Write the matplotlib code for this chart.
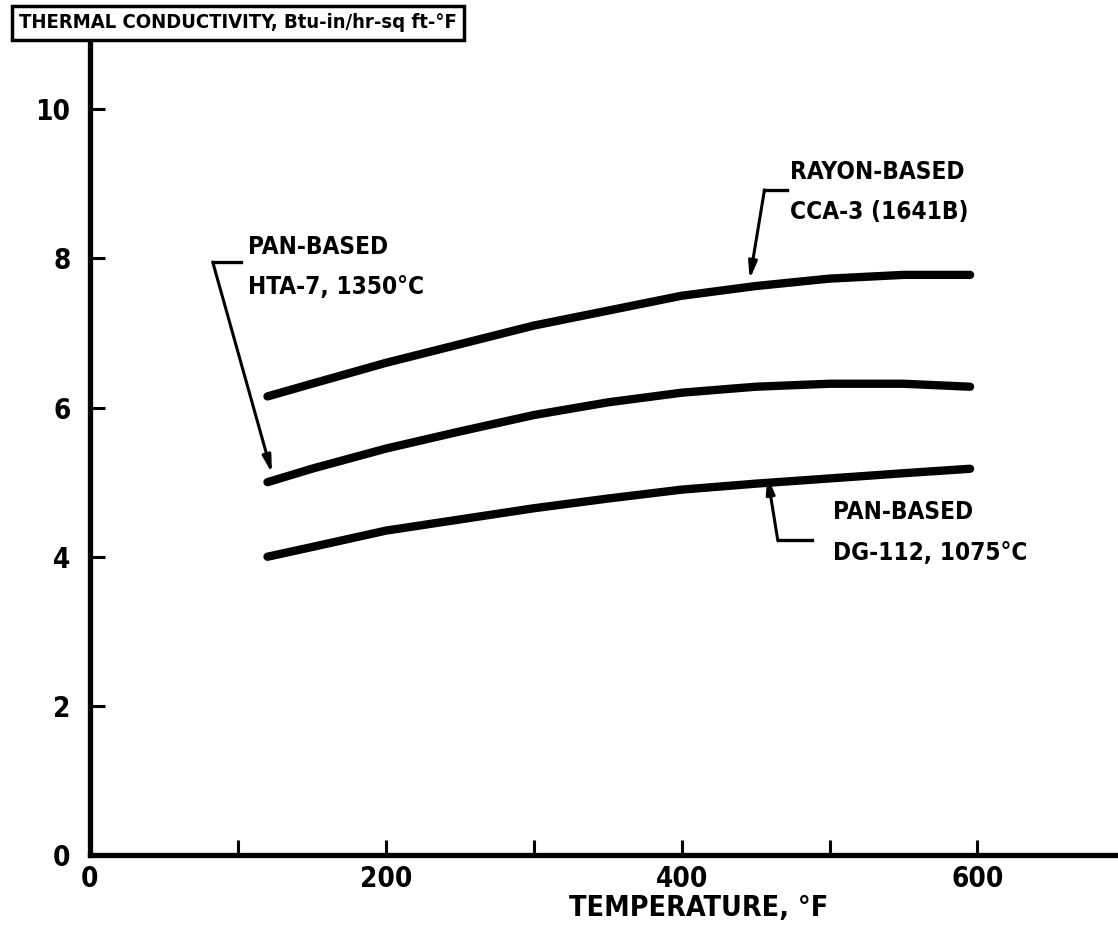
import matplotlib
matplotlib.use("Agg")
import matplotlib.pyplot as plt
from matplotlib import font_manager

# --- data -------------------------------------------------------------
temperature_f = [120, 150, 200, 250, 300, 350, 400, 450, 500, 550, 595]
rayon_cca3 = [6.15, 6.32, 6.60, 6.85, 7.10, 7.30, 7.50, 7.63, 7.73, 7.78, 7.78]
pan_hta7 = [5.00, 5.18, 5.45, 5.68, 5.90, 6.07, 6.20, 6.28, 6.32, 6.32, 6.28]
pan_dg112 = [4.00, 4.13, 4.35, 4.50, 4.65, 4.78, 4.90, 4.98, 5.05, 5.12, 5.18]

x_ticks = [0, 100, 200, 300, 400, 500, 600]
x_tick_labels = ["0", "", "200", "", "400", "", "600"]
y_ticks = [0, 2, 4, 6, 8, 10]
y_tick_labels = ["0", "2", "4", "6", "8", "10"]


# --- font: prefer a condensed bold face when one is installed ----------
def pick_font():
    narrow = ("condensed", "semi-condensed", "extra-condensed",
              "ultra-condensed")
    for f in font_manager.fontManager.ttflist:
        w = f.weight if isinstance(f.weight, int) else 700
        if (f.stretch in narrow or "Narrow" in f.name
                or "Condensed" in f.name) and w >= 600:
            return font_manager.FontProperties(fname=f.fname)
    return font_manager.FontProperties(family="Liberation Sans",
                                       weight="bold")


FONT = pick_font()

W, H = 1118, 931
fig = plt.figure(figsize=(W / 100, H / 100), dpi=100)
ax = fig.add_axes([90 / W, 1 - 855 / H, 1 - 90 / W, (855 - 40) / H])

ink = "black"
for ys in (rayon_cca3, pan_hta7, pan_dg112):
    ax.plot(temperature_f, ys, color=ink, lw=6.0, solid_capstyle="round",
            solid_joinstyle="round")

ax.set_xlim(0, 695)
ax.set_ylim(0, 10.93)

for side in ("top", "right"):
    ax.spines[side].set_visible(False)
for side in ("left", "bottom"):
    ax.spines[side].set_linewidth(3.8)
    ax.spines[side].set_color(ink)

ax.set_xticks(x_ticks)
ax.set_xticklabels(x_tick_labels)
ax.set_yticks(y_ticks)
ax.set_yticklabels(y_tick_labels)
ax.tick_params(axis="both", direction="in", length=11, width=2.2,
               colors=ink)
ax.tick_params(axis="x", pad=7)
ax.tick_params(axis="y", pad=14)
for lab in ax.get_xticklabels() + ax.get_yticklabels():
    lab.set_fontproperties(FONT)
    lab.set_fontsize(20)

fig.text(699 / W, 1 - 908 / H, "TEMPERATURE, °F", ha="center",
         va="center", fontproperties=FONT, fontsize=20.5)

fig.text(238 / W, 1 - 23 / H, "THERMAL CONDUCTIVITY, Btu-in/hr-sq ft-°F",
         ha="center", va="center", fontproperties=FONT, fontsize=14.5,
         bbox=dict(boxstyle="square,pad=0.35", fc="white", ec=ink, lw=2.5))

arrow = dict(arrowstyle="-|>,head_length=1.0,head_width=0.25", lw=2.2,
             color=ink, shrinkA=0, shrinkB=0)
label_kw = dict(fontproperties=FONT, fontsize=17.5, ha="left", va="center")

# PAN-based HTA-7 label, bracket and leader to the start of its curve
ax.text(107, 8.15, "PAN-BASED", **label_kw)
ax.text(107, 7.62, "HTA-7, 1350°C", **label_kw)
ax.plot([83, 102], [7.95, 7.95], color=ink, lw=2.4)
ax.annotate("", xy=(temperature_f[0] + 3, pan_hta7[0] + 0.12),
            xytext=(83, 7.95), arrowprops=arrow)

# Rayon-based CCA-3 label
ax.text(473, 9.16, "RAYON-BASED", **label_kw)
ax.text(473, 8.62, "CCA-3 (1641B)", **label_kw)
ax.plot([456, 471], [8.92, 8.92], color=ink, lw=2.4)
ax.annotate("", xy=(446, 7.72), xytext=(456, 8.92), arrowprops=arrow)

# PAN-based DG-112 label
ax.text(502, 4.60, "PAN-BASED", **label_kw)
ax.text(502, 4.05, "DG-112, 1075°C", **label_kw)
ax.plot([465, 488], [4.22, 4.22], color=ink, lw=2.4)
ax.annotate("", xy=(458, 5.08), xytext=(465, 4.22), arrowprops=arrow)

fig.savefig("out.png", dpi=100, facecolor="white")
